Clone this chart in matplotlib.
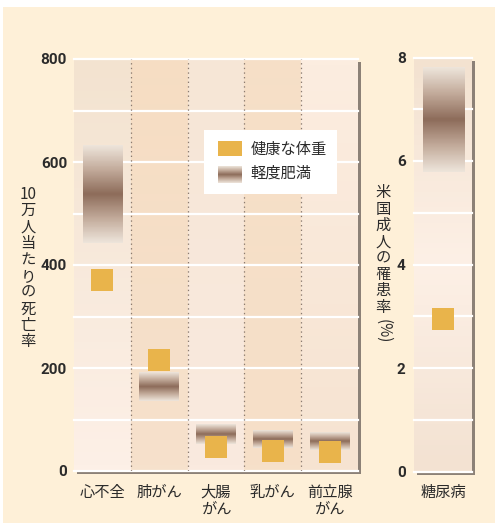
import numpy as np
import matplotlib.pyplot as plt
from matplotlib.colors import LinearSegmentedColormap, to_rgb
from matplotlib.patches import Rectangle

plt.rcParams['font.family'] = ['Noto Sans CJK JP', 'DejaVu Sans']

# death rate per 100k (left panel)
categories = ['心不全', '肺がん', '大腸\nがん', '乳がん', '前立腺\nがん']
healthy = [370, 216, 47, 38, 36]
over_lo = [443, 136, 52, 44, 40]
over_hi = [632, 191, 90, 78, 74]

# diabetes prevalence in US adults, % (right panel)
dia_label = ['糖尿病']
dia_healthy = [2.95]
dia_lo = [5.78]
dia_hi = [7.79]

SQ = '#E9B44B'
TXT = '#2b2b2b'
band_cmap = LinearSegmentedColormap.from_list(
    'band', ['#EDE4DA', '#C2AA9A', '#8D6C5A', '#C2AA9A', '#EDE4DA'])
panel_cmap = LinearSegmentedColormap.from_list(
    'panel', ['#F3E2D0', '#FDF0E6', '#F3E2D2'])
band_img = band_cmap(np.linspace(0, 1, 80)).reshape(80, 1, 4)

# column tints (top, bottom)
col_bg = [('#F3E3D0', '#FDF0E7'), ('#F6DDC3', '#F6E1CC'), ('#F6E6D6', '#FAEADF'),
          ('#F6DFC7', '#F6E0C9'), ('#FCEDE0', '#F6E3D1')]


def vgrad(top, bottom, n=64):
    t = np.linspace(0, 1, n)[:, None, None]
    return (1 - t) * np.array(to_rgb(top)) + t * np.array(to_rgb(bottom))


W, H = 495, 523
fig = plt.figure(figsize=(W / 100, H / 100), dpi=100, facecolor='white')
fig.patches.append(Rectangle((3 / W, 0), 1, 1 - 7 / H, transform=fig.transFigure,
                             facecolor='#FEF0D8', edgecolor='none', zorder=-3))

pos1 = [74 / W, 1 - 471 / H, 284 / W, 412 / H]
pos2 = [414 / W, 1 - 471.5 / H, 58 / W, 414 / H]
for p in (pos1, pos2):
    fig.patches.append(Rectangle((p[0] + 3 / W, p[1] - 3 / H), p[2], p[3],
                                 transform=fig.transFigure, facecolor='#8C8177',
                                 edgecolor='none', zorder=-2))

ax1 = fig.add_axes(pos1)
ax2 = fig.add_axes(pos2)

# left panel
for i, (top, bot) in enumerate(col_bg):
    ax1.imshow(vgrad(top, bot), extent=[i, i + 1, 0, 800], aspect='auto', zorder=0)
for y in range(0, 801, 100):
    ax1.axhline(y, color='white', lw=1.6, zorder=1, clip_on=False)
for i in range(1, 5):
    ax1.axvline(i, color='#8B7B70', lw=0.9, ls=(0, (1.1, 2.6)), zorder=1)
x = np.arange(len(categories)) + 0.5
for xi, lo, hi in zip(x, over_lo, over_hi):
    ax1.imshow(band_img, extent=[xi - 0.35, xi + 0.35, lo, hi], aspect='auto', zorder=2)
ax1.scatter(x, healthy, marker='s', s=265, color=SQ, linewidths=0, zorder=3)
ax1.set_xlim(0, 5)
ax1.set_ylim(0, 800)
ax1.set_xticks(x)
ax1.set_xticklabels(categories, fontsize=11, color=TXT, linespacing=1.05)
ax1.set_yticks(range(0, 801, 200))
ax1.set_yticklabels([str(v) for v in range(0, 801, 200)], fontfamily='Roboto',
                    fontweight='bold', fontsize=11, color=TXT)
ax1.tick_params(length=0)
ax1.tick_params(axis='y', pad=5)
ax1.tick_params(axis='x', pad=9)

# legend
ax1.add_patch(Rectangle((0.458, 0.672), 0.468, 0.156, transform=ax1.transAxes,
                        facecolor='white', edgecolor='none', zorder=4))
ax1.add_patch(Rectangle((0.506, 0.764), 0.084, 0.037, transform=ax1.transAxes,
                        facecolor=SQ, edgecolor='none', zorder=5))
ax1.imshow(band_img, extent=[0.506, 0.590, 0.700, 0.740], transform=ax1.transAxes,
           aspect='auto', zorder=5)
ax1.text(0.622, 0.781, '健康な体重', transform=ax1.transAxes, fontsize=11,
         color=TXT, va='center', zorder=6)
ax1.text(0.622, 0.722, '軽度肥満', transform=ax1.transAxes, fontsize=11,
         color=TXT, va='center', zorder=6)

# right panel
ax2.imshow(panel_cmap(np.linspace(0, 1, 80)).reshape(80, 1, 4),
           extent=[0, 1, 0, 8], aspect='auto', zorder=0)
for y in range(0, 9):
    ax2.axhline(y, color='white', lw=1.6, zorder=1, clip_on=False)
for lo, hi in zip(dia_lo, dia_hi):
    ax2.imshow(band_img, extent=[0.15, 0.857, lo, hi], aspect='auto', zorder=2)
ax2.scatter([0.5], dia_healthy, marker='s', s=265, color=SQ, linewidths=0, zorder=3)
ax2.set_xlim(0, 1)
ax2.set_ylim(0, 8)
ax2.set_xticks([0.5])
ax2.set_xticklabels(dia_label, fontsize=11, color=TXT)
ax2.set_yticks(range(0, 9, 2))
ax2.set_yticklabels([str(v) for v in range(0, 9, 2)], fontfamily='Roboto',
                    fontweight='bold', fontsize=11, color=TXT)
ax2.tick_params(length=0)
ax2.tick_params(axis='y', pad=6)
ax2.tick_params(axis='x', pad=9)

for ax in (ax1, ax2):
    for s in ax.spines.values():
        s.set_visible(False)

# vertical axis titles, characters stacked upright
fig.text(28 / W, 1 - 268 / H, '\n'.join(['10', '万', '人', '当', 'た', 'り', 'の', '死', '亡', '率']),
         ha='center', va='center', fontsize=11, color=TXT, linespacing=0.95)
fig.text(383 / W, 1 - 250 / H, '\n'.join('米国成人の罹患率'),
         ha='center', va='center', fontsize=11, color=TXT, linespacing=0.95)
fig.text(383 / W, 1 - 331 / H, '(%)', rotation=-90, ha='center', va='center',
         fontsize=11, color=TXT)

fig.savefig('out.png', dpi=100, facecolor=fig.get_facecolor())
